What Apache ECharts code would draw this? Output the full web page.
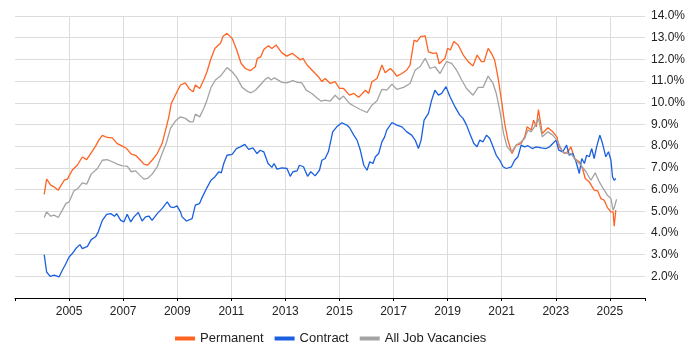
<!DOCTYPE html>
<html>
<head>
<meta charset="utf-8">
<title>Job vacancies trend</title>
<script src="https://cdn.jsdelivr.net/npm/echarts@6/dist/echarts.min.js"></script>
<style>
  html, body { margin: 0; padding: 0; background: #fff; }
  #chart { width: 700px; height: 350px; }
</style>
</head>
<body>
<div id="chart"></div>
<script>
// series names (legend)
var seriesNames = ['Permanent', 'Contract', 'All Job Vacancies'];

// [year, percent]
var permanent = [
  [2004.08,5.78],[2004.17,6.48],[2004.32,6.2],[2004.45,6.12],[2004.6,5.97],[2004.82,6.43],[2004.94,6.48],
  [2005.12,6.9],[2005.3,7.12],[2005.49,7.5],[2005.65,7.38],[2005.8,7.66],[2005.98,8.0],[2006.1,8.28],
  [2006.23,8.5],[2006.41,8.4],[2006.6,8.38],[2006.78,8.12],[2006.97,8.0],[2007.13,7.89],[2007.3,7.63],
  [2007.46,7.58],[2007.64,7.35],[2007.77,7.17],[2007.9,7.12],[2008.07,7.35],[2008.26,7.66],[2008.44,8.12],
  [2008.57,8.74],[2008.69,9.35],[2008.78,9.97],[2008.96,10.43],[2009.12,10.82],[2009.3,10.92],[2009.46,10.62],
  [2009.59,10.51],[2009.67,10.82],[2009.83,10.66],[2009.98,11.05],[2010.1,11.43],[2010.23,11.97],[2010.39,12.5],
  [2010.6,12.74],[2010.69,13.05],[2010.84,13.2],[2011.03,12.97],[2011.2,12.43],[2011.36,11.82],[2011.52,11.58],
  [2011.7,11.48],[2011.89,11.66],[2011.96,12.05],[2012.09,12.12],[2012.2,12.46],[2012.37,12.63],[2012.5,12.5],
  [2012.66,12.66],[2012.87,12.3],[2013.05,12.15],[2013.25,12.28],[2013.45,12.09],[2013.55,11.97],[2013.65,12.05],
  [2013.8,11.74],[2013.98,11.51],[2014.22,11.2],[2014.35,10.97],[2014.47,11.12],[2014.66,10.89],[2014.84,10.97],
  [2015.0,10.66],[2015.15,10.66],[2015.37,10.35],[2015.53,10.43],[2015.71,10.25],[2015.96,10.58],[2016.08,10.43],
  [2016.2,10.97],[2016.39,11.12],[2016.57,11.74],[2016.69,11.38],[2016.88,11.58],[2017.0,11.43],[2017.12,11.23],
  [2017.31,11.35],[2017.49,11.51],[2017.61,11.74],[2017.76,12.89],[2017.86,12.82],[2018.0,13.05],[2018.17,13.08],
  [2018.29,12.35],[2018.47,12.28],[2018.59,12.3],[2018.69,11.8],[2018.9,12.05],[2019.0,12.51],[2019.1,12.43],
  [2019.23,12.82],[2019.39,12.66],[2019.58,12.2],[2019.76,11.9],[2019.94,11.7],[2020.09,12.2],[2020.25,11.9],
  [2020.35,11.9],[2020.5,12.51],[2020.62,12.28],[2020.74,11.97],[2020.87,11.12],[2020.99,10.12],[2021.11,9.05],
  [2021.23,8.28],[2021.38,7.66],[2021.54,8.05],[2021.72,8.12],[2021.85,8.43],[2021.94,8.89],[2022.09,8.74],
  [2022.18,9.2],[2022.28,8.89],[2022.36,9.69],[2022.5,8.58],[2022.71,8.85],[2022.89,8.66],[2023.04,8.43],
  [2023.13,7.97],[2023.32,7.66],[2023.44,7.74],[2023.56,7.97],[2023.69,7.43],[2023.87,7.28],[2023.99,6.97],
  [2024.09,6.51],[2024.24,6.35],[2024.42,5.97],[2024.55,5.94],[2024.67,5.58],[2024.79,5.51],[2024.91,5.17],
  [2025.04,4.97],[2025.12,4.97],[2025.16,4.31],[2025.22,5.05]
];

var contract = [
  [2004.08,3.0],[2004.17,2.2],[2004.3,2.0],[2004.45,2.05],[2004.52,2.08],[2004.63,1.97],[2004.75,2.28],
  [2004.88,2.58],[2005.0,2.89],[2005.12,3.05],[2005.25,3.28],[2005.4,3.46],[2005.49,3.28],[2005.68,3.38],
  [2005.82,3.69],[2005.98,3.82],[2006.08,4.05],[2006.23,4.58],[2006.39,4.86],[2006.54,4.89],[2006.68,4.77],
  [2006.76,4.89],[2006.91,4.58],[2007.03,4.51],[2007.15,4.86],[2007.28,4.51],[2007.4,4.74],[2007.56,4.94],
  [2007.7,4.55],[2007.83,4.74],[2007.95,4.78],[2008.07,4.58],[2008.26,4.89],[2008.44,5.12],[2008.63,5.43],
  [2008.75,5.2],[2008.87,5.17],[2008.99,5.25],[2009.12,4.97],[2009.18,4.74],[2009.34,4.55],[2009.55,4.66],
  [2009.67,5.28],[2009.82,5.35],[2009.9,5.58],[2010.1,6.09],[2010.25,6.43],[2010.39,6.58],[2010.54,6.82],
  [2010.63,6.77],[2010.72,7.2],[2010.84,7.58],[2011.03,7.62],[2011.19,7.89],[2011.33,7.97],[2011.5,8.08],
  [2011.64,7.85],[2011.8,7.92],[2011.95,7.66],[2012.07,7.81],[2012.2,7.74],[2012.36,7.2],[2012.5,7.02],
  [2012.58,7.2],[2012.69,6.94],[2012.87,7.0],[2013.06,6.97],[2013.18,6.61],[2013.28,6.82],[2013.43,6.86],
  [2013.52,7.12],[2013.67,7.05],[2013.82,6.61],[2013.94,6.82],[2014.1,6.63],[2014.26,6.89],[2014.35,7.35],
  [2014.47,7.43],[2014.59,7.74],[2014.75,8.66],[2014.9,8.89],[2015.09,9.08],[2015.27,8.97],[2015.37,8.86],
  [2015.53,8.51],[2015.65,8.28],[2015.77,7.82],[2015.9,7.12],[2016.02,6.89],[2016.12,7.28],[2016.24,7.2],
  [2016.33,7.51],[2016.45,7.66],[2016.57,8.2],[2016.67,8.43],[2016.75,8.74],[2016.94,9.09],[2017.12,8.97],
  [2017.31,8.89],[2017.49,8.66],[2017.67,8.51],[2017.8,8.28],[2017.92,7.89],[2018.02,8.28],[2018.13,9.2],
  [2018.29,9.51],[2018.41,10.12],[2018.53,10.58],[2018.66,10.35],[2018.78,10.43],[2018.94,10.74],[2019.09,10.28],
  [2019.27,9.82],[2019.45,9.43],[2019.57,9.28],[2019.7,8.97],[2019.82,8.58],[2019.97,8.12],[2020.09,7.97],
  [2020.19,8.28],[2020.31,8.2],[2020.44,8.51],[2020.56,8.35],[2020.68,7.97],[2020.8,7.58],[2020.93,7.35],
  [2021.05,7.05],[2021.17,6.97],[2021.36,7.05],[2021.48,7.35],[2021.6,7.51],[2021.72,8.05],[2021.85,7.97],
  [2021.97,8.02],[2022.13,7.89],[2022.28,7.97],[2022.46,7.92],[2022.64,7.89],[2022.77,7.97],[2022.89,8.12],
  [2023.01,8.28],[2023.11,7.82],[2023.26,7.74],[2023.4,8.05],[2023.5,7.58],[2023.63,7.66],[2023.75,7.28],
  [2023.87,6.74],[2023.96,7.43],[2024.06,7.2],[2024.14,7.58],[2024.24,7.51],[2024.33,7.89],[2024.42,7.43],
  [2024.51,7.97],[2024.63,8.51],[2024.73,8.12],[2024.85,7.51],[2024.95,7.74],[2025.04,7.35],[2025.1,6.58],
  [2025.16,6.43],[2025.22,6.51]
];

var allJobs = [
  [2004.08,4.71],[2004.17,4.97],[2004.32,4.77],[2004.45,4.82],[2004.6,4.71],[2004.75,5.05],[2004.88,5.35],
  [2005.0,5.43],[2005.18,5.94],[2005.33,6.05],[2005.49,6.31],[2005.65,6.25],[2005.82,6.71],[2006.05,6.97],
  [2006.23,7.35],[2006.41,7.38],[2006.6,7.28],[2006.78,7.17],[2006.97,7.09],[2007.15,7.08],[2007.3,6.82],
  [2007.46,6.86],[2007.64,6.63],[2007.77,6.48],[2007.9,6.51],[2008.07,6.71],[2008.26,7.05],[2008.44,7.66],
  [2008.59,8.12],[2008.75,8.82],[2008.94,9.17],[2009.12,9.35],[2009.3,9.28],[2009.47,9.12],[2009.59,9.12],
  [2009.67,9.48],[2009.83,9.35],[2009.98,9.74],[2010.1,10.12],[2010.25,10.71],[2010.41,11.05],[2010.6,11.23],
  [2010.69,11.38],[2010.84,11.62],[2011.03,11.43],[2011.2,11.17],[2011.4,10.71],[2011.58,10.54],[2011.73,10.46],
  [2011.89,10.58],[2012.07,10.82],[2012.26,11.09],[2012.38,11.17],[2012.47,11.05],[2012.59,11.15],[2012.69,11.08],
  [2012.87,10.94],[2013.06,10.92],[2013.27,11.02],[2013.45,10.94],[2013.61,10.92],[2013.77,10.58],[2013.98,10.43],
  [2014.16,10.23],[2014.31,10.08],[2014.47,10.12],[2014.66,10.08],[2014.84,10.35],[2015.0,10.15],[2015.15,10.31],
  [2015.37,9.97],[2015.53,9.85],[2015.77,9.69],[2016.02,9.55],[2016.2,9.89],[2016.39,10.09],[2016.57,10.62],
  [2016.75,10.58],[2016.94,10.86],[2017.12,10.62],[2017.37,10.71],[2017.61,10.89],[2017.8,11.51],[2017.98,11.66],
  [2018.17,12.05],[2018.35,11.58],[2018.53,11.66],[2018.72,11.35],[2018.96,11.9],[2019.15,11.82],[2019.33,11.51],
  [2019.52,11.05],[2019.7,10.66],[2019.94,10.35],[2020.13,10.71],[2020.31,10.71],[2020.5,11.23],[2020.68,10.89],
  [2020.8,10.43],[2020.95,9.51],[2021.07,8.58],[2021.2,7.97],[2021.36,7.74],[2021.54,8.05],[2021.72,8.2],
  [2021.85,8.35],[2021.97,8.74],[2022.09,8.66],[2022.21,8.89],[2022.36,9.28],[2022.5,8.43],[2022.71,8.66],
  [2022.89,8.51],[2023.04,8.28],[2023.26,7.74],[2023.44,7.66],[2023.56,7.66],[2023.75,7.35],[2023.93,7.12],
  [2024.12,6.82],[2024.3,6.43],[2024.46,6.77],[2024.61,6.35],[2024.75,6.05],[2024.91,5.74],[2025.04,5.58],
  [2025.12,5.05],[2025.17,5.2],[2025.25,5.55]
];

var colors = ['#ff6321', '#1a5fe0', '#a3a3a3'];

var myChart = echarts.init(document.getElementById('chart'));

var option = {
    animation: false,
    color: colors,
    textStyle: { fontFamily: 'Liberation Sans, Arial, sans-serif' },
    grid: { left: 15, right: 55, top: 16, bottom: 52 },
    legend: {
        data: seriesNames,
        left: 170,
        top: 327,
        itemWidth: 20,
        itemHeight: 4,
        itemGap: 11,
        icon: 'rect',
        textStyle: { fontSize: 13, color: '#222' }
    },
    xAxis: {
        type: 'value',
        min: 2003,
        max: 2026.3,
        interval: 2,
        axisLine: { lineStyle: { color: '#000', width: 1 } },
        axisTick: { show: true, length: 3, lineStyle: { color: '#000' } },
        axisLabel: {
            color: '#222',
            fontSize: 12,
            margin: 8,
            formatter: function (v) {
                if (v > 2003 && v < 2026 && Math.round(v) === v) return String(v);
                return '';
            }
        },
        splitLine: { show: true, showMinLine: false, showMaxLine: false, lineStyle: { color: '#dcdcdc' } }
    },
    yAxis: {
        type: 'value',
        position: 'right',
        min: 1,
        max: 14,
        interval: 1,
        axisLine: { show: false },
        axisTick: { show: false },
        axisLabel: {
            color: '#222',
            fontSize: 12,
            margin: 6,
            formatter: function (v) {
                return v <= 1 ? '' : v.toFixed(1) + '%';
            }
        },
        splitLine: { lineStyle: { color: '#dcdcdc' } }
    },
    series: [
        { name: seriesNames[0], type: 'line', data: permanent, showSymbol: false, lineStyle: { width: 1.3 } },
        { name: seriesNames[1], type: 'line', data: contract, showSymbol: false, lineStyle: { width: 1.3 } },
        { name: seriesNames[2], type: 'line', data: allJobs, showSymbol: false, lineStyle: { width: 1.3 } }
    ]
};

myChart.setOption(option);
</script>
</body>
</html>
